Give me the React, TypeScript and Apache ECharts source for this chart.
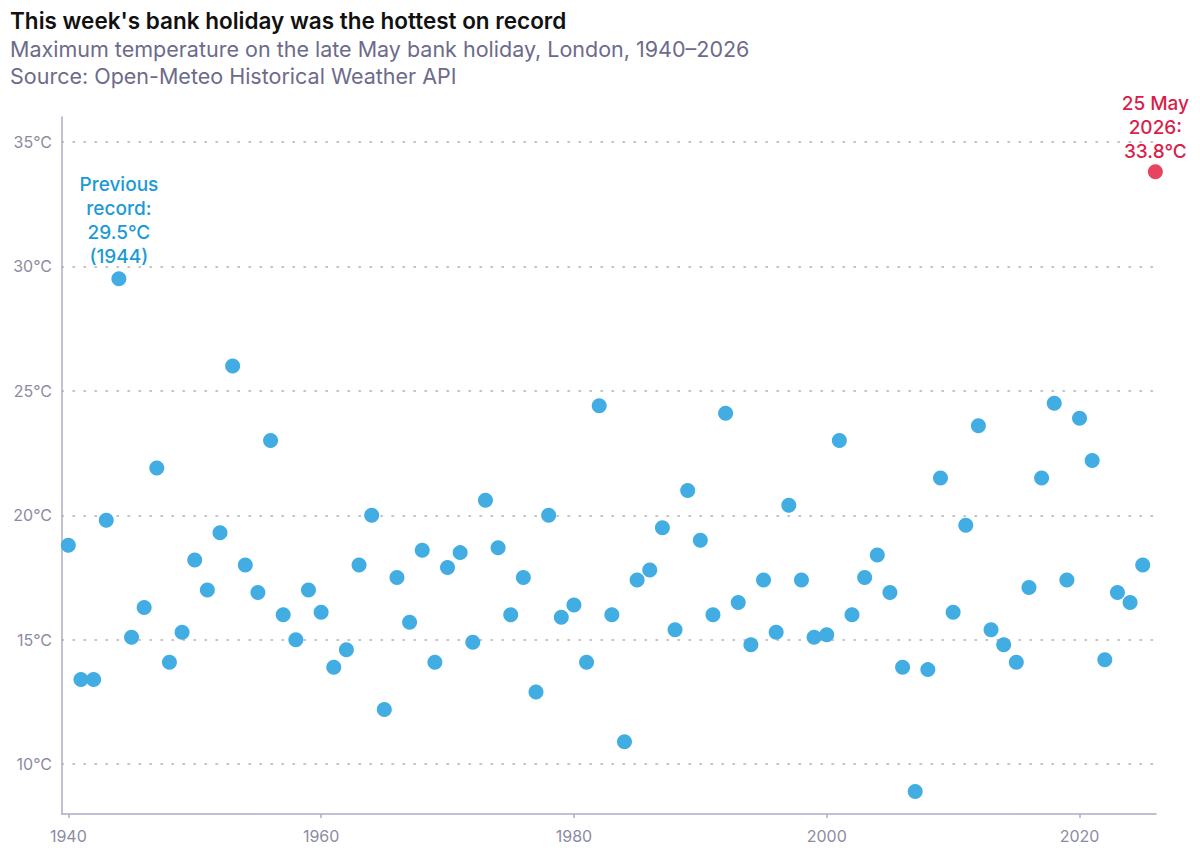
import React, { useEffect, useRef } from "react";
import * as echarts from "echarts";

const years = [
  1940, 1941, 1942, 1943, 1944, 1945, 1946, 1947, 1948, 1949,
  1950, 1951, 1952, 1953, 1954, 1955, 1956, 1957, 1958, 1959,
  1960, 1961, 1962, 1963, 1964, 1965, 1966, 1967, 1968, 1969,
  1970, 1971, 1972, 1973, 1974, 1975, 1976, 1977, 1978, 1979,
  1980, 1981, 1982, 1983, 1984, 1985, 1986, 1987, 1988, 1989,
  1990, 1991, 1992, 1993, 1994, 1995, 1996, 1997, 1998, 1999,
  2000, 2001, 2002, 2003, 2004, 2005, 2006, 2007, 2008, 2009,
  2010, 2011, 2012, 2013, 2014, 2015, 2016, 2017, 2018, 2019,
  2020, 2021, 2022, 2023, 2024, 2025,
];

const maxTemps = [
  18.8, 13.4, 13.4, 19.8, 29.5, 15.1, 16.3, 21.9, 14.1, 15.3,
  18.2, 17.0, 19.3, 26.0, 18.0, 16.9, 23.0, 16.0, 15.0, 17.0,
  16.1, 13.9, 14.6, 18.0, 20.0, 12.2, 17.5, 15.7, 18.6, 14.1,
  17.9, 18.5, 14.9, 20.6, 18.7, 16.0, 17.5, 12.9, 20.0, 15.9,
  16.4, 14.1, 24.4, 16.0, 10.9, 17.4, 17.8, 19.5, 15.4, 21.0,
  19.0, 16.0, 24.1, 16.5, 14.8, 17.4, 15.3, 20.4, 17.4, 15.1,
  15.2, 23.0, 16.0, 17.5, 18.4, 16.9, 13.9, 8.9, 13.8, 21.5,
  16.1, 19.6, 23.6, 15.4, 14.8, 14.1, 17.1, 21.5, 24.5, 17.4,
  23.9, 22.2, 14.2, 16.9, 16.5, 18.0,
];

const recordYear = 2026;
const recordTemp = 33.8;
const previousRecordYear = 1944;

const xTicks = [1940, 1960, 1980, 2000, 2020];
const yTicks = [10, 15, 20, 25, 30, 35];

const FONT = "Inter, 'Noto Sans', sans-serif";
const BLUE = "#41ade2";
const BLUE_TEXT = "#1b9ad6";
const RED = "#e8435f";
const RED_TEXT = "#d81e4a";
const AXIS = "#aeacc0";
const LABEL = "#8d8ba3";

export default function App() {
  const ref = useRef<HTMLDivElement>(null);

  useEffect(() => {
    if (!ref.current) return;
    const chart = echarts.init(ref.current, null, { renderer: "svg" });

    const annot = {
      show: true,
      position: "top",
      distance: 3,
      fontFamily: FONT,
      fontSize: 19,
      fontWeight: 500,
      lineHeight: 24,
      align: "center",
    };

    const blueData = years.map((y, i) => {
      const item: any = { value: [y, maxTemps[i]] };
      if (y === previousRecordYear) {
        item.label = {
          ...annot,
          formatter: "Previous\nrecord:\n29.5°C\n(1944)",
          color: BLUE_TEXT,
        };
      }
      return item;
    });

    chart.setOption({
      animation: false,
      backgroundColor: "#ffffff",
      title: [
        {
          text: "This week's bank holiday was the hottest on record",
          left: 10,
          top: 9,
          padding: 0,
          textStyle: { fontFamily: FONT, fontSize: 22.5, fontWeight: 600, color: "#111111" },
        },
        {
          text: "Maximum temperature on the late May bank holiday, London, 1940–2026",
          left: 10,
          top: 38,
          padding: 0,
          textStyle: { fontFamily: FONT, fontSize: 21.5, fontWeight: 400, color: "#6d6b8b" },
        },
        {
          text: "Source: Open-Meteo Historical Weather API",
          left: 10,
          top: 65,
          padding: 0,
          textStyle: { fontFamily: FONT, fontSize: 21.5, fontWeight: 400, color: "#6d6b8b" },
        },
      ],
      grid: { left: 62, right: 44, top: 117, bottom: 41, containLabel: false },
      xAxis: {
        type: "value",
        min: 1939.5,
        max: 2026.05,
        splitLine: { show: false },
        axisLine: { show: true, lineStyle: { color: AXIS, width: 1.5 } },
        axisTick: {
          show: true,
          length: 4,
          customValues: xTicks,
          lineStyle: { color: AXIS, width: 1.5 },
        },
        axisLabel: {
          customValues: xTicks,
          margin: 14,
          color: LABEL,
          fontFamily: FONT,
          fontSize: 16,
          formatter: (v: number) => String(v),
        },
      },
      yAxis: {
        type: "value",
        min: 8,
        max: 36,
        splitLine: { show: false },
        axisLine: { show: true, lineStyle: { color: AXIS, width: 1.5 } },
        axisTick: { show: false, customValues: yTicks },
        axisLabel: {
          customValues: yTicks,
          margin: 10,
          color: LABEL,
          fontFamily: FONT,
          fontSize: 16,
          formatter: (v: number) => `${v}°C`,
        },
      },
      series: [
        {
          type: "scatter",
          symbolSize: 15,
          itemStyle: { color: BLUE, opacity: 1 },
          data: blueData,
          z: 3,
          markLine: {
            silent: true,
            symbol: "none",
            label: { show: false },
            lineStyle: { type: [1.5, 9.5], width: 1.5, color: "#b0b0b0", cap: "round" },
            data: yTicks.map((t) => ({ yAxis: t })),
            z: 1,
          },
        },
        {
          type: "scatter",
          symbolSize: 15,
          itemStyle: { color: RED, opacity: 1 },
          z: 4,
          data: [
            {
              value: [recordYear, recordTemp],
              label: {
                ...annot,
                distance: 1,
                formatter: "25 May\n2026:\n33.8°C",
                color: RED_TEXT,
              },
            },
          ],
        },
      ],
    });

    return () => chart.dispose();
  }, []);

  return (
    <div
      ref={ref}
      style={{ position: "fixed", left: 0, top: 0, width: 1200, height: 855, background: "#fff" }}
    />
  );
}
